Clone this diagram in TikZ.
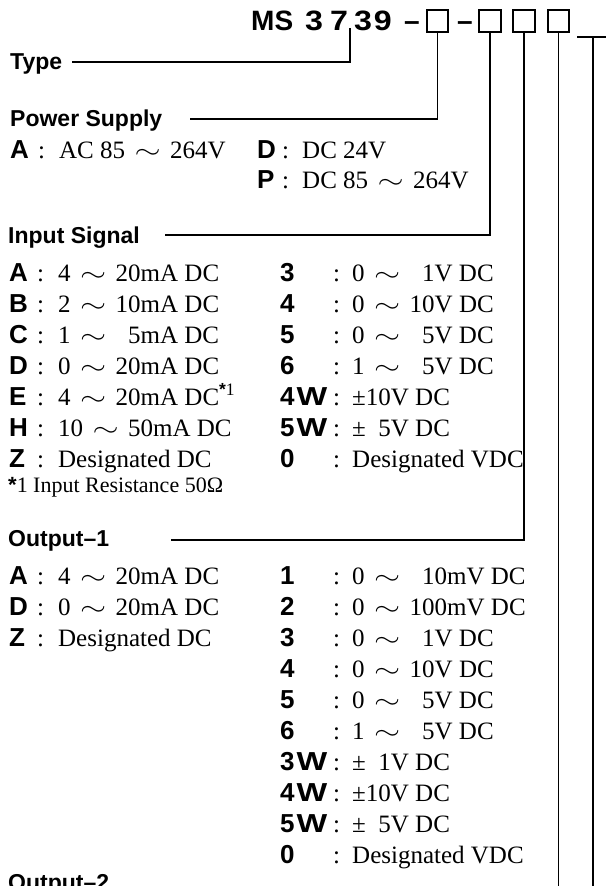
\documentclass[tikz,border=0pt]{standalone}
\usepackage{fontspec}
\usepackage{graphicx}
\setmainfont{Liberation Serif}
\newfontfamily\gothic{Liberation Sans}
\newcommand\cd[1]{{\gothic\bfseries\fontsize{26}{26}\selectfont #1}}
\newcommand\wv{\makebox[1.8em]{\scalebox{1.35}[1]{$\sim$}}}
\newcommand\cL[1]{\makebox[49pt][l]{\makebox[28pt][l]{\cd{#1}}:}}
\newcommand\cR[1]{\makebox[72pt][l]{\makebox[53pt][l]{\cd{#1}}:}}
\newcommand\cP[1]{\makebox[45pt][l]{\makebox[25pt][l]{\cd{#1}}:}}
\newcommand\Wd{\hspace{2pt}\scalebox{1.25}[1]{W}}
\newcommand\dg[1]{\scalebox{1.15}[1]{#1}}
\newcommand\astk{{\gothic\bfseries *}}
\begin{document}
\begin{tikzpicture}[x=1pt,y=-1pt,
  lbl/.style={anchor=base west,inner sep=0pt,font=\gothic\bfseries\fontsize{23}{23}\selectfont},
  val/.style={anchor=base west,inner sep=0pt,font=\fontsize{25}{25}\selectfont},
  note/.style={anchor=base west,inner sep=0pt,font=\fontsize{22}{22}\selectfont},
  ttl/.style={anchor=base west,inner sep=0pt,font=\gothic\bfseries\fontsize{28}{28}\selectfont},
  slot/.style={draw,line width=1.8pt,minimum width=21.5pt,minimum height=22.5pt,inner sep=0pt},
  wire/.style={line width=1.3pt}]
\clip (0,0) rectangle (606,886);
\useasboundingbox (0,0) rectangle (606,886);
% title
\node[ttl] (ms) at (251,30) {MS\hspace{12pt}\dg{3}\hspace{7pt}\dg{7}\hspace{6pt}\dg{3}\hspace{2pt}\dg{9}};
\node[ttl] (d1) at (404,30) {–};
\node[slot] (b1) at (437.5,21) {};
\node[ttl] (d2) at (457,30) {–};
\node[slot] (b2) at (490,21) {};
\node[slot] (b3) at (524,21) {};
\node[slot] (b4) at (558.5,21) {};
\coordinate (usL) at (577,37);
\coordinate (usR) at (606,37);
\coordinate (us) at (593,37);
\coordinate (usend) at (593,900);
\coordinate (b4end) at (558.5,900);
\coordinate (typeT) at (350,28);
% labels
\node[lbl] (type) at (10,69) {Type};
\node[lbl] (ps) at (10,126) {Power Supply};
\node[lbl] (is) at (8,243) {Input Signal};
\node[lbl] (o1) at (8,546) {Output–1};
\node[lbl] (o2) at (8,890) {Output–2};
% connectors
\draw[wire] ([shift={(10,-7)}]type.base east) -| (typeT);
\draw[wire] ([shift={(28,-7)}]ps.base east) -| (b1.south);
\draw[wire] ([shift={(25,-8)}]is.base east) -| (b2.south);
\draw[wire] ([shift={(62,-6)}]o1.base east) -| (b3.south);
\draw[wire] (b4.south) -- (b4end);
\draw[wire] (usL) -- (usR);
\draw[wire] (us) -- (usend);
% power supply
\node[val] (pa) at (10,158) {\cL{A}AC 85\wv 264V};
\node[val] (pd) at (257,158) {\cP{D}DC 24V};
\node[val] (pp) at (257,188) {\cP{P}DC 85\wv 264V};
% input signal left
\node[val] (ia) at (9,281) {\cL{A}4\wv 20mA DC};
\node[val] (ib) at (9,312) {\cL{B}2\wv 10mA DC};
\node[val] (ic) at (9,343) {\cL{C}1\wv\phantom{1}5mA DC};
\node[val] (id) at (9,374) {\cL{D}0\wv 20mA DC};
\node[val] (ie) at (9,405) {\cL{E}4\wv 20mA DC\textsuperscript{\astk1}};
\node[val] (ih) at (9,436) {\cL{H}10\wv 50mA DC};
\node[val] (iz) at (9,467) {\cL{Z}Designated DC};
% input signal right
\node[val] (i3) at (280,281) {\cR{3}0\wv\phantom{1}1V DC};
\node[val] (i4) at (280,312) {\cR{4}0\wv 10V DC};
\node[val] (i5) at (280,343) {\cR{5}0\wv\phantom{1}5V DC};
\node[val] (i6) at (280,374) {\cR{6}1\wv\phantom{1}5V DC};
\node[val] (i4w) at (280,405) {\cR{4\Wd}±10V DC};
\node[val] (i5w) at (280,436) {\cR{5\Wd}±\phantom{1}5V DC};
\node[val] (i0) at (280,467) {\cR{0}Designated VDC};
\node[note] (fn) at (8,492) {\astk1 Input Resistance 50Ω};
% output-1 left
\node[val] (oa) at (9,584) {\cL{A}4\wv 20mA DC};
\node[val] (od) at (9,615) {\cL{D}0\wv 20mA DC};
\node[val] (oz) at (9,646) {\cL{Z}Designated DC};
% output-1 right
\node[val] (o1a) at (280,584) {\cR{1}0\wv\phantom{1}10mV DC};
\node[val] (o2a) at (280,615) {\cR{2}0\wv 100mV DC};
\node[val] (o3a) at (280,646) {\cR{3}0\wv\phantom{1}1V DC};
\node[val] (o4a) at (280,677) {\cR{4}0\wv 10V DC};
\node[val] (o5a) at (280,708) {\cR{5}0\wv\phantom{1}5V DC};
\node[val] (o6a) at (280,739) {\cR{6}1\wv\phantom{1}5V DC};
\node[val] (o3w) at (280,770) {\cR{3\Wd}±\phantom{1}1V DC};
\node[val] (o4w) at (280,801) {\cR{4\Wd}±10V DC};
\node[val] (o5w) at (280,832) {\cR{5\Wd}±\phantom{1}5V DC};
\node[val] (o0) at (280,863) {\cR{0}Designated VDC};
\end{tikzpicture}
\end{document}
